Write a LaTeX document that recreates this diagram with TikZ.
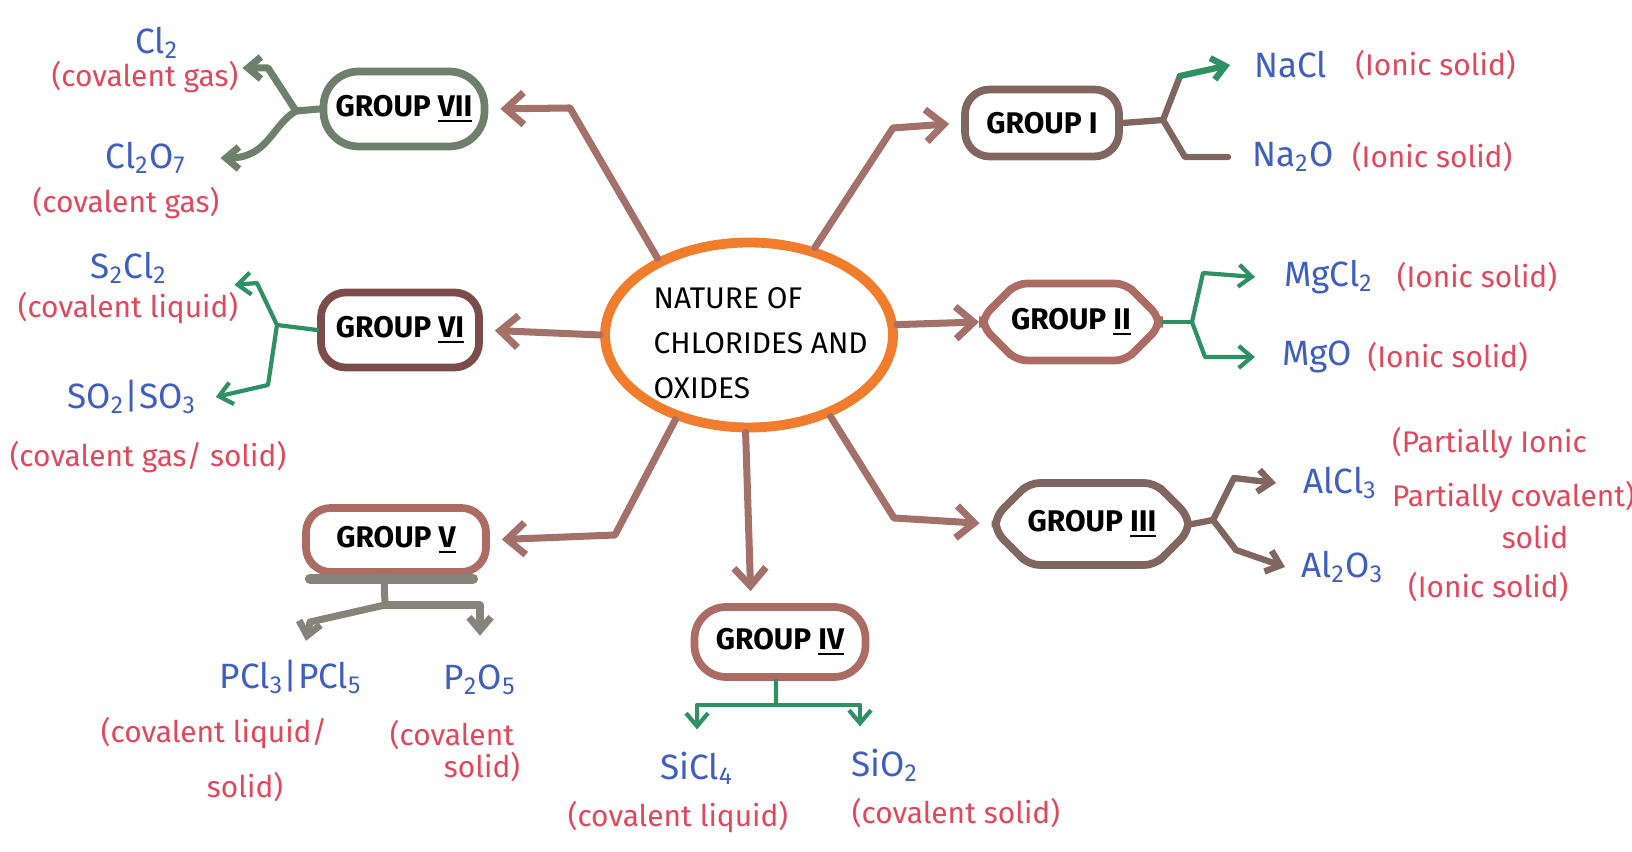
\documentclass[tikz,border=0pt]{standalone}
\usepackage{fontspec}
\setmainfont{Fira Sans}
\usepackage{tikz}
\usetikzlibrary{positioning,shapes.geometric,shapes.misc,arrows.meta}

\definecolor{hubor}{HTML}{F07C2C}
\definecolor{armbr}{HTML}{A4706A}
\definecolor{formblue}{HTML}{3F5FBF}
\definecolor{statered}{HTML}{E2485C}
\definecolor{leafgrn}{HTML}{2F9163}
\definecolor{sagegrn}{HTML}{6C806C}
\definecolor{slate}{HTML}{84847A}
\definecolor{mocha}{HTML}{80665F}
\definecolor{rosebr}{HTML}{AC6B63}
\definecolor{darkbr}{HTML}{7C4C4A}

\begin{document}
\begin{tikzpicture}[x=0.1mm,y=-0.1mm,
      hub/.style={ellipse,draw=hubor,line width=2.8pt,minimum width=28.8mm,minimum height=18.5mm,inner sep=0pt},
      hubtext/.style={align=left,font=\fontsize{8.5}{12.8}\selectfont,inner sep=0pt},
      grp/.style={draw,line width=2.2pt,rounded corners=7pt,font=\fontsize{8.5}{10}\selectfont\bfseries,inner sep=2pt},
      grpcut/.style={grp,chamfered rectangle,chamfered rectangle xsep=2.2mm,rounded corners=3pt},
      armarr/.style={draw=armbr,line width=2pt,line join=round,line cap=round,shorten >=1.2mm,
        -{Straight Barb[length=1.8mm,width=3.2mm]}},
      twig/.style={draw=#1,line width=1.2pt,line join=round,line cap=round},
      smallhead/.style={-{Straight Barb[length=1.3mm,width=2.2mm]}},
      formula/.style={text=formblue,font=\fontsize{10}{12}\selectfont,inner sep=1pt},
      state/.style={text=statered,font=\fontsize{8.5}{10}\selectfont,inner sep=1pt}]
      \useasboundingbox (0,0) rectangle (1632,852);

      \node[hub] (hub) at (749,335) {};
      \node[hubtext,anchor=west] (title) at (653,343) {NATURE OF\\CHLORIDES AND\\OXIDES};

      \node[grp,draw=sagegrn,rounded corners=10pt,minimum width=16.1mm,minimum height=7.5mm] (g7) at (404,109) {GROUP \underline{VII}};
      \node[grp,draw=darkbr,minimum width=15.8mm,minimum height=7.5mm] (g6) at (400,330) {GROUP \underline{VI}};
      \node[grp,draw=rosebr,minimum width=18mm,minimum height=6.4mm] (g5) at (396,540) {GROUP \underline{V}};
      \node[grp,draw=rosebr,rounded corners=9pt,minimum width=17.1mm,minimum height=7mm] (g4) at (780,642) {GROUP \underline{IV}};
      \node[grp,draw=mocha,minimum width=15.4mm,minimum height=6.7mm] (g1) at (1042,123) {GROUP I};
      \node[grpcut,draw=rosebr,minimum width=17.1mm,minimum height=7.7mm] (g2) at (1071,322) {GROUP \underline{II}};
      \node[grpcut,draw=mocha,minimum width=19.3mm,minimum height=8.2mm] (g3) at (1092,524) {GROUP \underline{III}};

      \node[formula] (f7a) at (157,43) {Cl\textsubscript{2}};
      \node[state] (s7a) at (145,77) {(covalent gas)};
      \node[formula] (f7b) at (146,158) {Cl\textsubscript{2}O\textsubscript{7}};
      \node[state] (s7b) at (126,203) {(covalent gas)};

      \node[formula] (f6a) at (129,268) {S\textsubscript{2}Cl\textsubscript{2}};
      \node[state] (s6a) at (128,308) {(covalent liquid)};
      \node[formula] (f6b) at (132,397) {SO\textsubscript{2}|SO\textsubscript{3}};
      \node[state] (s6b) at (148,457) {(covalent gas/ solid)};

      \node[formula] (f5a) at (291,677) {PCl\textsubscript{3}|PCl\textsubscript{5}};
      \node[state] (s5a) at (214,733) {(covalent liquid/};
      \node[state] (s5b) at (245,787) {solid)};
      \node[formula] (f5b) at (480,680) {P\textsubscript{2}O\textsubscript{5}};
      \node[state] (s5c) at (452,735) {(covalent};
      \node[state] (s5d) at (482,767) {solid)};

      \node[formula] (f4a) at (697,768) {SiCl\textsubscript{4}};
      \node[state] (s4a) at (678,817) {(covalent liquid)};
      \node[formula] (f4b) at (885,765) {SiO\textsubscript{2}};
      \node[state] (s4b) at (956,813) {(covalent solid)};

      \node[formula,anchor=west] (f1a) at (1250,65) {NaCl};
      \node[state,right=2mm of f1a] (s1a) {(Ionic solid)};
      \node[formula,anchor=west] (f1b) at (1248,157) {Na\textsubscript{2}O};
      \node[state,right=1mm of f1b] (s1b) {(Ionic solid)};

      \node[formula,anchor=west] (f2a) at (1280,277) {MgCl\textsubscript{2}};
      \node[state,right=1.5mm of f2a] (s2a) {(Ionic solid)};
      \node[formula,anchor=west] (f2b) at (1278,357) {MgO};
      \node[state,right=0.7mm of f2b] (s2b) {(Ionic solid)};

      \node[formula,anchor=west] (f3a) at (1299,483) {AlCl\textsubscript{3}};
      \node[state,anchor=west] (s3a) at (1388,443) {(Partially Ionic};
      \node[state,anchor=west] (s3b) at (1388,497) {Partially covalent)};
      \node[state] (s3c) at (1535,537) {solid};
      \node[formula,anchor=west] (f3b) at (1297,567) {Al\textsubscript{2}O\textsubscript{3}};
      \node[state,anchor=west] (s3d) at (1404,587) {(Ionic solid)};

      \draw[armarr] (hub.140) -- (570,108) -- (g7.east);
      \draw[armarr] (hub.53) -- (893,128) -- (g1.west);
      \draw[armarr] (hub.315) -- (894,518) -- (g3.west);
      \draw[armarr] (hub.229) -- (615,535) -- (g5.east);
      \draw[armarr] (hub.268) -- ([xshift=-2.9mm]g4.north);
      \draw[armarr] (hub.west) -- (g6.east);
      \draw[armarr,shorten >=0pt] (hub.4) -- (g2.west);

      \coordinate (k7) at (296,111);
      \draw[twig=sagegrn,line width=2pt] (g7.west) -- (k7);
      \draw[twig=sagegrn,line width=2pt,smallhead] (k7) -- (268,68) -- ([yshift=-1.1mm]s7a.north east);
      \draw[twig=sagegrn,line width=2pt,smallhead] (k7) .. controls (272,125) and (268,158) .. ([xshift=3mm]f7b.east);

      \coordinate (k6) at (277,325);
      \draw[twig=leafgrn] (g6.west) -- (k6);
      \draw[twig=leafgrn,smallhead] (k6) -- (257,283) -- ([xshift=-0.8mm,yshift=0.3mm]s6a.north east);
      \draw[twig=leafgrn,smallhead] (k6) -- (268,385) -- ([xshift=1.5mm]f6b.east);

      \coordinate (k5) at (385,605);
      \draw[twig=slate,line width=3pt] ([xshift=0.8mm,yshift=-0.3mm]g5.south west) -- ([xshift=-1.7mm,yshift=-0.3mm]g5.south east);
      \draw[twig=slate,line width=2pt] ([xshift=-1.2mm]g5.south) -- (k5);
      \draw[twig=slate,line width=2pt,smallhead] (k5) -- (310,622) -- ([xshift=1.5mm,yshift=1.5mm]f5a.north);
      \draw[twig=slate,line width=2pt,smallhead] (k5) -| ([yshift=2.5mm]f5b.north);

      \coordinate (k4) at (776,705);
      \draw[twig=leafgrn] ([xshift=-0.4mm]g4.south) -- (k4);
      \draw[twig=leafgrn,smallhead] (k4) -| ([yshift=1.8mm]f4a.north);
      \draw[twig=leafgrn,smallhead] (k4) -| ([xshift=-2.5mm,yshift=1.8mm]f4b.north);

      \coordinate (k1) at (1163,120);
      \coordinate (k1a) at (1180,76);
      \draw[twig=mocha,line width=1.8pt] (g1.east) -- (k1) -- (k1a);
      \draw[twig=leafgrn,line width=1.8pt,smallhead] (k1a) -- ([xshift=-2mm]f1a.west);
      \draw[twig=mocha,line width=1.8pt] (k1) -- (1185,157) -- ([xshift=-2mm]f1b.west);

      \coordinate (k2) at (1192,322);
      \draw[twig=leafgrn] (g2.east) -- (k2);
      \draw[twig=leafgrn,smallhead] (k2) -- (1203,273) -- ([xshift=-2.5mm]f2a.west);
      \draw[twig=leafgrn,smallhead] (k2) -- (1205,357) -- ([xshift=-2.3mm]f2b.west);

      \coordinate (k3) at (1213,520);
      \draw[twig=mocha,line width=1.8pt] (g3.east) -- (k3);
      \draw[twig=mocha,line width=1.8pt,smallhead] (k3) -- (1234,478) -- ([xshift=-2.3mm]f3a.west);
      \draw[twig=mocha,line width=1.8pt,smallhead] (k3) -- (1236,550) -- ([xshift=-1.2mm]f3b.west);
\end{tikzpicture}
\end{document}
